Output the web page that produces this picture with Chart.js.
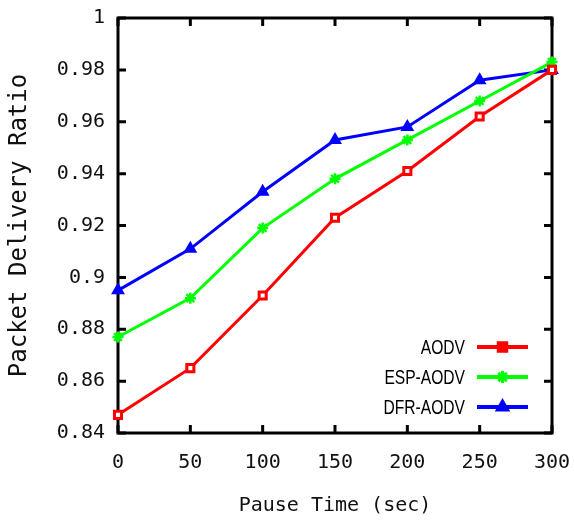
<!DOCTYPE html>
<html>
<head>
<meta charset="utf-8">
<script src="https://cdn.jsdelivr.net/npm/chart.js@4/dist/chart.umd.min.js"></script>
<style>
  html, body { margin: 0; padding: 0; background: #fff; }
  #wrap { width: 574px; height: 521px; }
</style>
</head>
<body>
<div id="wrap"><canvas id="pdr"></canvas></div>
<script>
// pause time (sec) and packet delivery ratio per protocol
const pauseTimes = [0, 50, 100, 150, 200, 250, 300];
const aodv    = [0.847, 0.865, 0.893, 0.923, 0.941, 0.962, 0.980];
const espAodv = [0.877, 0.892, 0.919, 0.938, 0.953, 0.968, 0.983];
const dfrAodv = [0.895, 0.911, 0.933, 0.953, 0.958, 0.976, 0.980];

const xTicks = [0, 50, 100, 150, 200, 250, 300];
const yTicks = [0.84, 0.86, 0.88, 0.9, 0.92, 0.94, 0.96, 0.98, 1];

const monoFont = '"DejaVu Sans Mono", "Liberation Mono", monospace';
const ink = '#111';

const toPoints = vals => vals.map((v, i) => ({ x: pauseTimes[i], y: v }));

// gnuplot style frame: box border with inward ticks on all four sides
const framePlugin = {
  id: 'frame',
  beforeDatasetsDraw(chart) {
    const { ctx, chartArea: a, scales } = chart;
    const len = 8;
    ctx.save();
    ctx.strokeStyle = '#000';
    ctx.lineWidth = 3;
    ctx.beginPath();
    scales.x.ticks.forEach(t => {
      const px = scales.x.getPixelForValue(t.value);
      ctx.moveTo(px, a.bottom); ctx.lineTo(px, a.bottom - len);
      ctx.moveTo(px, a.top); ctx.lineTo(px, a.top + len);
    });
    scales.y.ticks.forEach(t => {
      const py = scales.y.getPixelForValue(t.value);
      ctx.moveTo(a.left, py); ctx.lineTo(a.left + len, py);
      ctx.moveTo(a.right, py); ctx.lineTo(a.right - len, py);
    });
    ctx.stroke();
    ctx.strokeRect(a.left, a.top, a.right - a.left, a.bottom - a.top);
    ctx.restore();
  }
};

// key inside the plot, bottom right: right-aligned label, then line sample with marker
const keyPlugin = {
  id: 'key',
  afterDatasetsDraw(chart) {
    const { ctx, chartArea: a } = chart;
    const textRight = a.right - 87;
    const lineX0 = a.right - 75, lineX1 = a.right - 24;
    const rowH = 30;
    const firstY = a.bottom - 86;
    ctx.save();
    chart.data.datasets.forEach((ds, i) => {
      const y = firstY + i * rowH;
      ctx.save();
      ctx.translate(textRight, y);
      ctx.scale(0.78, 1);
      ctx.font = '20px "Liberation Sans", Arial, sans-serif';
      ctx.fillStyle = '#000';
      ctx.textAlign = 'right';
      ctx.textBaseline = 'middle';
      ctx.fillText(ds.label, 0, 1);
      ctx.restore();

      ctx.strokeStyle = ds.borderColor;
      ctx.lineWidth = 4;
      ctx.beginPath();
      ctx.moveTo(lineX0, y); ctx.lineTo(lineX1, y);
      ctx.stroke();

      ctx.fillStyle = ds.borderColor;
      ctx.lineWidth = 3;
      Chart.helpers.drawPoint(ctx, {
        pointStyle: ds.pointStyle,
        radius: ds.keyRadius,
        rotation: 0,
        borderWidth: 3
      }, (lineX0 + lineX1) / 2, y);
    });
    ctx.restore();
  }
};

new Chart(document.getElementById('pdr'), {
  type: 'line',
  data: {
    datasets: [
      {
        label: 'AODV',
        data: toPoints(aodv),
        borderColor: '#ff0000',
        backgroundColor: '#ffffff',
        pointStyle: 'rect',
        pointRadius: 5,
        pointBorderWidth: 3,
        keyRadius: 6
      },
      {
        label: 'ESP-AODV',
        data: toPoints(espAodv),
        borderColor: '#00ff00',
        backgroundColor: '#00ff00',
        pointStyle: 'star',
        pointRadius: 5.5,
        pointBorderWidth: 2.5,
        keyRadius: 6
      },
      {
        label: 'DFR-AODV',
        data: toPoints(dfrAodv),
        borderColor: '#0000ff',
        backgroundColor: '#0000ff',
        pointStyle: 'triangle',
        pointRadius: 6,
        pointBorderWidth: 2,
        keyRadius: 6
      }
    ]
  },
  options: {
    responsive: true,
    maintainAspectRatio: false,
    animation: false,
    layout: { padding: { top: 18, right: 22, left: 0, bottom: 0 } },
    elements: {
      line: { borderWidth: 3, tension: 0 },
      point: { hoverRadius: 6 }
    },
    datasets: { line: { clip: false } },
    plugins: {
      legend: { display: false },
      tooltip: { enabled: false }
    },
    scales: {
      x: {
        type: 'linear',
        min: 0,
        max: 300,
        afterFit: s => { s.height = 88; s.paddingLeft = 0; s.paddingRight = 0; },
        afterBuildTicks: s => { s.ticks = xTicks.map(v => ({ value: v })); },
        grid: { display: false, drawTicks: false },
        border: { display: false },
        ticks: {
          padding: 18,
          color: ink,
          font: { family: monoFont, size: 20 },
          callback: v => String(v)
        },
        title: {
          display: true,
          text: 'Pause Time (sec)',
          color: ink,
          font: { family: monoFont, size: 20 },
          padding: { top: 0, bottom: 3 }
        }
      },
      y: {
        type: 'linear',
        min: 0.84,
        max: 1,
        afterFit: s => { s.width = 118; s.paddingTop = 0; s.paddingBottom = 0; },
        afterBuildTicks: s => { s.ticks = yTicks.map(v => ({ value: v })); },
        grid: { display: false, drawTicks: false },
        border: { display: false },
        ticks: {
          padding: 13,
          color: ink,
          font: { family: monoFont, size: 20 },
          callback: v => String(+v.toFixed(2))
        },
        title: {
          display: true,
          text: 'Packet Delivery Ratio',
          color: ink,
          font: { family: monoFont, size: 24 },
          padding: { top: 5, bottom: 0 }
        }
      }
    }
  },
  plugins: [framePlugin, keyPlugin]
});
</script>
</body>
</html>
